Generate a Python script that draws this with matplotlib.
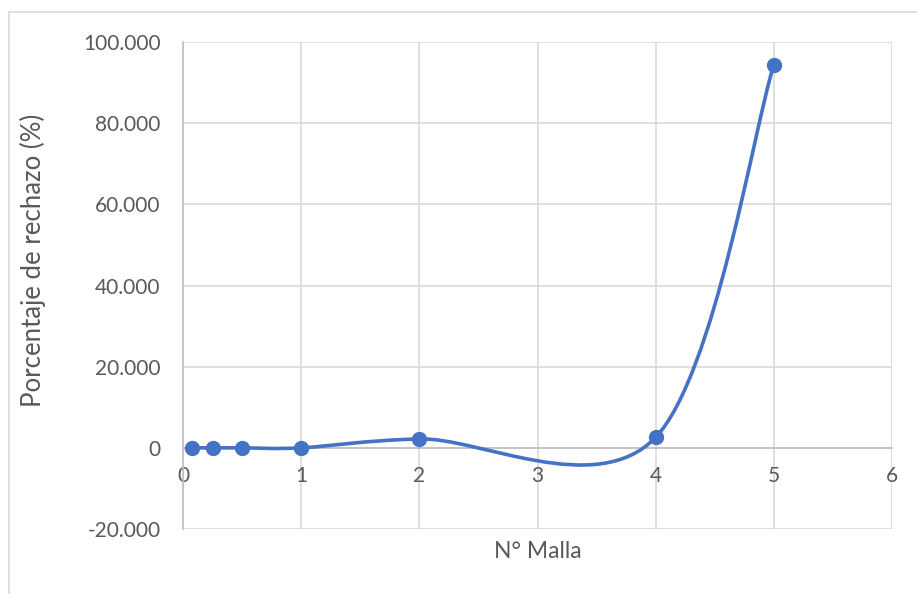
import matplotlib
matplotlib.use("Agg")
from matplotlib import pyplot as plt
from matplotlib.path import Path
from matplotlib.patches import PathPatch, Rectangle

# data
malla = [0.075, 0.25, 0.5, 1, 2, 4, 5]
rechazo = [0.0, 0.0, 0.0, 0.0, 2.2, 2.6, 94.4]
y_ticks = [-20, 0, 20, 40, 60, 80, 100]
y_labels = ["-20.000", "0", "20.000", "40.000", "60.000", "80.000", "100.000"]
x_ticks = [0, 1, 2, 3, 4, 5, 6]

blue = "#4472C4"
grid = "#d9d9d9"
text_col = "#595959"
plt.rcParams['font.family'] = ['Lato', 'DejaVu Sans']

W, H = 917, 594
fig = plt.figure(figsize=(W / 100, H / 100), dpi=100)
ax = fig.add_axes([183 / W, 1 - 529 / H, (892 - 183) / W, (529 - 42) / H])

# outer chart border (clipped on the right and bottom like the reference)
fig.patches.append(Rectangle((9 / W, -0.05), 1.1, 1 - 12 / H + 0.05,
                             transform=fig.transFigure, fill=False,
                             edgecolor="#d9d9d9", lw=1.2))


def smooth_path(xs, ys):
    # Excel style smoothed line: cubic bezier with catmull-rom control points
    pts = list(zip(xs, ys))
    verts = [pts[0]]
    codes = [Path.MOVETO]
    n = len(pts)
    for i in range(n - 1):
        p0 = pts[i - 1] if i > 0 else pts[i]
        p1 = pts[i]
        p2 = pts[i + 1]
        p3 = pts[i + 2] if i + 2 < n else pts[i + 1]
        c1 = (p1[0] + (p2[0] - p0[0]) / 6, p1[1] + (p2[1] - p0[1]) / 6)
        c2 = (p2[0] - (p3[0] - p1[0]) / 6, p2[1] - (p3[1] - p1[1]) / 6)
        verts += [c1, c2, p2]
        codes += [Path.CURVE4] * 3
    return Path(verts, codes)


ax.add_patch(PathPatch(smooth_path(malla, rechazo), fill=False,
                       edgecolor=blue, lw=2.6, capstyle="round", zorder=3))
ax.plot(malla, rechazo, linestyle="none", marker="o", markersize=10,
        color=blue, zorder=4)

ax.set_xlim(0, 6)
ax.set_ylim(-20, 100)
ax.set_xticks(x_ticks)
ax.set_yticks(y_ticks)
ax.set_yticklabels(y_labels)
ax.grid(True, color=grid, lw=1.2, zorder=0)
ax.set_axisbelow(True)

ax.spines['top'].set_visible(False)
ax.spines['right'].set_visible(False)
ax.spines['bottom'].set_position(('data', 0))
ax.spines['bottom'].set_color("#bfbfbf")
ax.spines['left'].set_color("#bfbfbf")
ax.spines['left'].set_linewidth(1.2)
ax.spines['bottom'].set_linewidth(1.2)

ax.tick_params(axis="both", length=0, labelsize=15, labelcolor=text_col)
ax.tick_params(axis="x", pad=13)
ax.tick_params(axis="y", pad=16)

fig.text(33 / W, 1 - 260 / H, "Porcentaje de rechazo (%)", rotation=90,
         ha="center", va="center", fontsize=18.5, color=text_col)
fig.text(538 / W, 1 - 551 / H, "N° Malla", ha="center", va="center",
         fontsize=16.5, color=text_col)

fig.savefig("out.png", dpi=100)
